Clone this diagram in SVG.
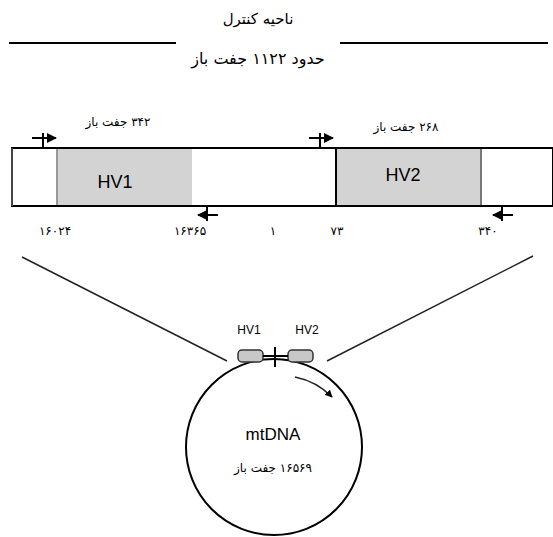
<svg xmlns="http://www.w3.org/2000/svg" width="553" height="537" viewBox="0 0 553 537">
<defs>
<style>
.fa{font-family:"DejaVu Sans",sans-serif;fill:#000;text-anchor:middle}
.lbl{font-family:"Liberation Sans",Arial,sans-serif;fill:#000;text-anchor:middle}
.ln{stroke:#000;stroke-width:2;fill:none}
.thin{stroke:#222;stroke-width:1.5;fill:none}
.hv{fill:#d3d3d3}
</style>
<marker id="ah" viewBox="0 0 10 10" refX="9" refY="5" markerWidth="5" markerHeight="5" orient="auto-start-reverse">
<path d="M0,0 L10,5 L0,10 z" fill="#000"/>
</marker>
</defs>

<g id="title">
<text class="fa" x="258" y="24" font-size="15" direction="rtl">ناحیه کنترل</text>
<text class="fa" x="258" y="64" font-size="16" direction="rtl">حدود ۱۱۲۲ جفت باز</text>
<line class="ln" x1="9" y1="43" x2="176" y2="43"/>
<line class="ln" x1="340" y1="43" x2="548" y2="43"/>
</g>

<g id="region">
<rect x="12" y="148" width="541" height="58" fill="#fff" stroke="#000" stroke-width="2"/>
<line x1="12" y1="148" x2="12" y2="206" stroke="#444" stroke-width="2"/>
</g>

<g id="hv1">
<rect class="hv" x="57" y="149" width="135" height="56"/>
<line x1="57" y1="149" x2="57" y2="205" stroke="#999" stroke-width="2"/>
<text class="lbl" x="115" y="188" font-size="18">HV1</text>
<text class="fa" x="118" y="126" font-size="12" direction="rtl">۳۴۲ جفت باز</text>
</g>

<g id="hv2">
<rect class="hv" x="336" y="149" width="145" height="56"/>
<line x1="336" y1="148" x2="336" y2="206" stroke="#000" stroke-width="2"/>
<line x1="481" y1="149" x2="481" y2="205" stroke="#777" stroke-width="2"/>
<text class="lbl" x="403" y="181" font-size="18">HV2</text>
<text class="fa" x="406" y="131" font-size="12" direction="rtl">۲۶۸ جفت باز</text>
</g>

<g id="positions">
<text class="fa" x="55" y="235" font-size="12">۱۶۰۲۴</text>
<text class="fa" x="190" y="235" font-size="12">۱۶۳۶۵</text>
<text class="fa" x="273" y="235" font-size="12">۱</text>
<text class="fa" x="337" y="235" font-size="12">۷۳</text>
<text class="fa" x="488" y="235" font-size="12">۳۴۰</text>
</g>

<g id="primers">
<line class="ln" x1="32" y1="138" x2="56" y2="138" marker-end="url(#ah)"/>
<line class="ln" x1="43" y1="133" x2="43" y2="147"/>
<line class="ln" x1="309" y1="138" x2="333" y2="138" marker-end="url(#ah)"/>
<line class="ln" x1="320" y1="133" x2="320" y2="147"/>
<line class="ln" x1="218" y1="215" x2="198" y2="215" marker-end="url(#ah)"/>
<line class="ln" x1="207" y1="207" x2="207" y2="221"/>
<line class="ln" x1="513" y1="215" x2="493" y2="215" marker-end="url(#ah)"/>
<line class="ln" x1="502" y1="207" x2="502" y2="221"/>
</g>

<g id="connectors">
<line class="thin" x1="22" y1="257" x2="227" y2="361"/>
<line class="thin" x1="533" y1="256" x2="327" y2="361"/>
</g>

<g id="mtdna">
<circle cx="274" cy="447" r="88" fill="none" stroke="#000" stroke-width="2"/>
<rect x="238" y="350" width="25" height="12" rx="4" fill="#c8c8c8" stroke="#333" stroke-width="1.5"/>
<rect x="288" y="350" width="25" height="12" rx="4" fill="#c8c8c8" stroke="#333" stroke-width="1.5"/>
<line class="ln" x1="263" y1="356" x2="288" y2="356"/>
<line class="ln" x1="275" y1="347" x2="275" y2="367"/>
<text class="lbl" x="249" y="334" font-size="12">HV1</text>
<text class="lbl" x="307" y="334" font-size="12">HV2</text>
<path class="thin" d="M295,377 A72,72 0 0 1 332,397" marker-end="url(#ah)"/>
<text class="lbl" x="273" y="440" font-size="17">mtDNA</text>
<text class="fa" x="273" y="472" font-size="12" direction="rtl">۱۶۵۶۹ جفت باز</text>
</g>
</svg>
